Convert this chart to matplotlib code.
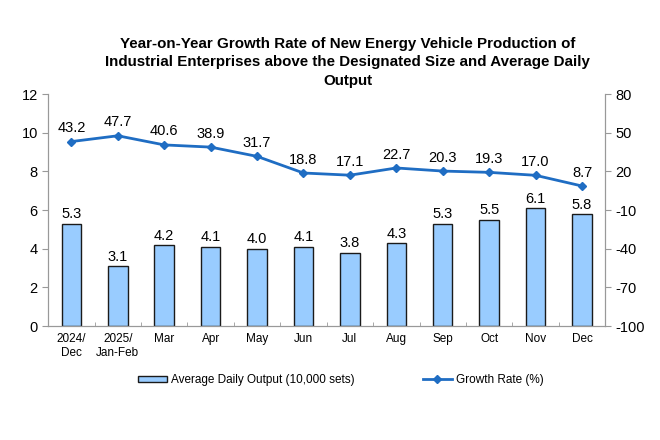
import matplotlib.pyplot as plt
import numpy as np

plt.rcParams['font.family'] = ['Liberation Sans', 'DejaVu Sans']
plt.rcParams['axes.unicode_minus'] = False

months = ['2024/\nDec', '2025/\nJan-Feb', 'Mar', 'Apr', 'May', 'Jun', 'Jul',
          'Aug', 'Sep', 'Oct', 'Nov', 'Dec']
daily_output = [5.3, 3.1, 4.2, 4.1, 4.0, 4.1, 3.8, 4.3, 5.3, 5.5, 6.1, 5.8]
growth_rate = [43.2, 47.7, 40.6, 38.9, 31.7, 18.8, 17.1, 22.7, 20.3, 19.3, 17.0, 8.7]

bar_color = '#99CCFF'
line_color = '#1F6DC3'
narrow = ['Liberation Sans Narrow', 'Liberation Sans']

fig = plt.figure(figsize=(6.6, 4.4), dpi=100)
ax = fig.add_axes([0.073, 0.259, 0.844, 0.527])
x = np.arange(len(months))

ax.bar(x, daily_output, width=0.42, color=bar_color, edgecolor='#1a1a1a',
       linewidth=1.0, label='Average Daily Output (10,000 sets)', zorder=2)
for xi, v in zip(x, daily_output):
    ax.text(xi, v + 0.12, f'{v:.1f}', ha='center', va='bottom', fontsize=10.5)

ax.set_ylim(0, 12)
ax.set_yticks(range(0, 13, 2))
ax.set_xlim(-0.5, len(months) - 0.5)
ax.set_xticks(x)
ax.set_xticklabels(months, fontsize=8.5, family=narrow)
ax.set_xticks(np.arange(-0.5, len(months), 1), minor=True)
ax.tick_params(axis='x', which='major', length=0, pad=5)
ax.tick_params(axis='x', which='minor', length=3, direction='in', color='#999999')
ax.tick_params(axis='y', labelsize=10.5, length=4, color='#999999')

ax2 = ax.twinx()
ax2.plot(x, growth_rate, color=line_color, linewidth=2, marker='D', markersize=4,
         label='Growth Rate (%)', zorder=3)
for xi, v in zip(x, growth_rate):
    ax2.text(xi, v + 5, f'{v:.1f}', ha='center', va='bottom', fontsize=10.5)
ax2.set_ylim(-100, 80)
ax2.set_yticks(range(-100, 81, 30))
ax2.tick_params(axis='y', labelsize=10.5, length=4, color='#999999')

for a in (ax, ax2):
    a.spines['top'].set_visible(False)
    for s in ('left', 'right', 'bottom'):
        a.spines[s].set_color('#999999')

fig.text(0.527, 0.917,
         'Year-on-Year Growth Rate of New Energy Vehicle Production of\n'
         'Industrial Enterprises above the Designated Size and Average Daily\n'
         'Output', ha='center', va='top', fontsize=10.9, fontweight='bold',
         linespacing=1.42)

h1, l1 = ax.get_legend_handles_labels()
h2, l2 = ax2.get_legend_handles_labels()
fig.legend(h1 + h2, l1 + l2, loc='center', bbox_to_anchor=(0.516, 0.136), ncol=2,
           frameon=False, columnspacing=5.8, handlelength=2.5,
           handleheight=0.5, handletextpad=0.3,
           prop={'family': narrow, 'size': 8.5})

fig.savefig('out.png', dpi=100)
